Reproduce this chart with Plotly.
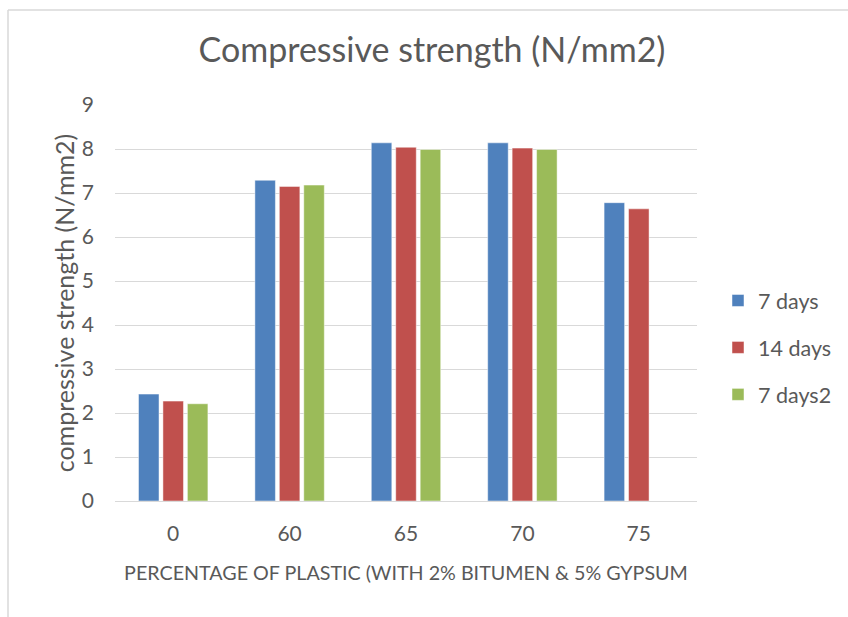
import plotly.graph_objects as go

categories = ["0", "60", "65", "70", "75"]
series_names = ["7 days", "14 days", "7 days2"]
days7 = [2.43, 7.29, 8.14, 8.14, 6.78]
days14 = [2.27, 7.15, 8.04, 8.02, 6.64]
days7b = [2.21, 7.18, 7.99, 7.99, None]
colors = ["#4F81BD", "#C0504D", "#9BBB59"]
y_ticks = list(range(0, 10))

FONT = "Lato, Open Sans, sans-serif"
GRAY = "#595959"

fig = go.Figure()
for name, vals, col in zip(series_names, [days7, days14, days7b], colors):
    fig.add_trace(go.Bar(
        x=categories, y=vals, name=name, legendgroup=name,
        marker=dict(color=col, line=dict(color="rgba(255,255,255,0.6)", width=0.8)),
    ))

W, H = 848, 617
L, R, T, B = 115, 151, 105, 116
pw, ph = W - L - R, H - T - B

def px(x):
    return (x - L) / pw

def py(y):
    return (H - B - y) / ph

fig.update_layout(
    width=W, height=H,
    margin=dict(l=L, r=R, t=T, b=B, autoexpand=False),
    paper_bgcolor="white", plot_bgcolor="white",
    font=dict(family=FONT, color=GRAY, size=21),
    barmode="group", bargap=0.37, bargroupgap=0.16,
    title=dict(text="Compressive strength (N/mm2)", x=432 / W, xanchor="center",
               y=1 - 50 / H, yanchor="middle",
               font=dict(family=FONT, size=34, color=GRAY)),
    xaxis=dict(
        title=dict(text="PERCENTAGE OF PLASTIC (WITH 2% BITUMEN & 5% GYPSUM",
                   font=dict(size=19.7, color=GRAY), standoff=22),
        showgrid=False, showline=False, zeroline=False, ticks="",
        ticklabelstandoff=18, tickfont=dict(size=21, color=GRAY),
    ),
    yaxis=dict(
        title=dict(text="compressive strength (N/mm2)",
                   font=dict(size=25, color=GRAY), standoff=0),
        range=[0, 9], tickvals=y_ticks, ticktext=[str(v) for v in y_ticks],
        showgrid=True, gridcolor="#D9D9D9", gridwidth=1.2,
        zeroline=True, zerolinecolor="#D9D9D9", zerolinewidth=1.2,
        showline=False, ticks="", ticklabelstandoff=20,
        tickfont=dict(size=21, color=GRAY),
    ),
    legend=dict(x=px(718), y=py(280), xanchor="left", yanchor="top",
                tracegroupgap=16, font=dict(size=21.5, color=GRAY),
                itemwidth=30, bgcolor="rgba(0,0,0,0)"),
    showlegend=True,
)

# chart area border (outer frame)
fig.add_shape(type="line", xref="paper", yref="paper",
              x0=px(8), x1=px(8), y0=py(10), y1=py(620),
              line=dict(color="#D9D9D9", width=1.5))
fig.add_shape(type="line", xref="paper", yref="paper",
              x0=px(8), x1=px(850), y0=py(10), y1=py(10),
              line=dict(color="#D9D9D9", width=1.5))

fig.write_html("out.html", config={"displayModeBar": False},
               post_script="document.body.style.margin='0';document.body.style.overflow='hidden';")
